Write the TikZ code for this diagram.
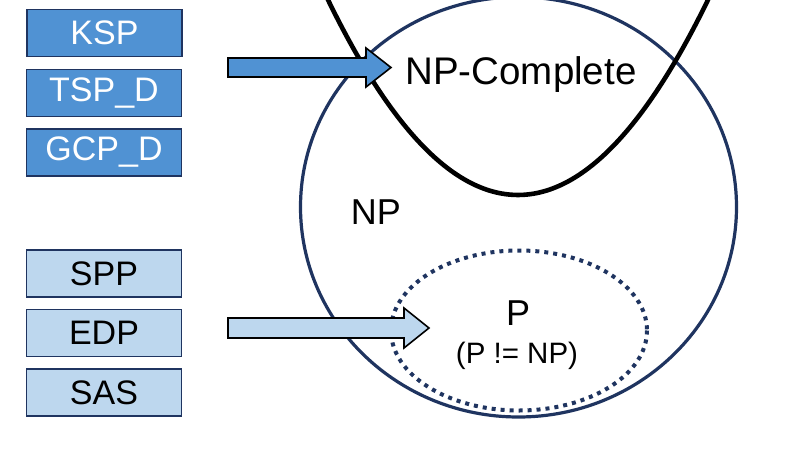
\documentclass[tikz,border=0pt]{standalone}
\usepackage{fontspec}
\setmainfont{Liberation Sans}
\definecolor{navy}{HTML}{1F3460}
\definecolor{darkfill}{HTML}{5092D3}
\definecolor{lightfill}{HTML}{BDD7EE}
\tikzset{
  probbox/.style={draw=navy, line width=1.8pt, minimum width=155pt, minimum height=47pt, inner sep=0pt,
    font=\fontsize{34}{34}\selectfont},
  darkbox/.style={probbox, fill=darkfill, text=white},
  lightbox/.style={probbox, fill=lightfill, text=black},
  blockarrow/.style={draw=black, line width=1.6pt, line join=miter},
  setline/.style={draw=navy, line width=3.2pt},
}
\begin{document}
\begin{tikzpicture}[x=1pt,y=-1pt]
\useasboundingbox (0,0) rectangle (808,455);
\clip (0,0) rectangle (808,455);
% sets
\draw[setline] (518.5,207) ellipse [x radius=218, y radius=210];
\draw[draw=navy, line width=4pt, dash pattern=on 4pt off 5pt] (519,330.5) ellipse [x radius=128, y radius=80];
\coordinate (pl) at (313,-32.2);
\coordinate (pr) at (723,-32.2);
\draw[black, line width=4.6pt] (pl) .. controls (449.7,270.7) and (586.3,270.7) .. (pr);
% labels
\node[font=\fontsize{38.5}{38.5}\selectfont] (npc) at (521,75) {NP-Complete};
\node[font=\fontsize{36}{36}\selectfont] (np) at (376,212) {NP};
\node[font=\fontsize{36}{36}\selectfont] (p) at (518,313) {P};
\node[font=\fontsize{29.5}{29.5}\selectfont] (pne) at (517,356) {(P != NP)};
% boxes
\node[darkbox] (ksp) at (104.5,33) {KSP};
\node[darkbox] (tsp) at (104,93) {TSP\_D};
\node[darkbox] (gcp) at (104,152.5) {GCP\_D};
\node[lightbox] (spp) at (104,273.5) {SPP};
\node[lightbox] (edp) at (104,333) {EDP};
\node[lightbox] (sas) at (104,392.5) {SAS};
% block arrows
\coordinate (a1t) at (391,67.5);
\draw[blockarrow, fill=darkfill] (228,58) -- (366,58) -- (366,48) -- (a1t) -- (366,87) -- (366,77) -- (228,77) -- cycle;
\coordinate (a2t) at (429,328);
\draw[blockarrow, fill=lightfill] (228,318) -- (404,318) -- (404,308) -- (a2t) -- (404,348) -- (404,338) -- (228,338) -- cycle;
\end{tikzpicture}
\end{document}
